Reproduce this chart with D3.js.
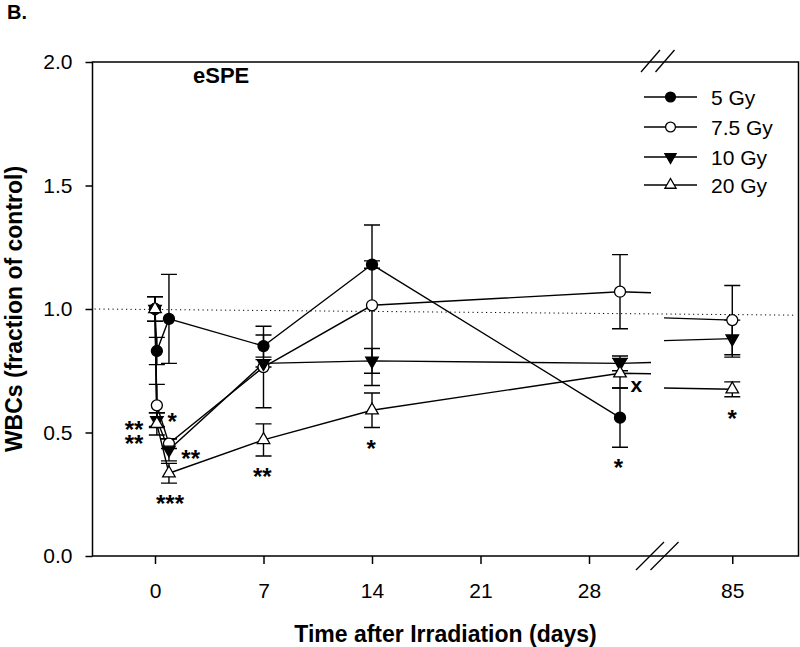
<!DOCTYPE html>
<html><head><meta charset="utf-8">
<script src="https://cdn.jsdelivr.net/npm/d3@7"></script>
<style>
body{margin:0;background:#fff;}
text{font-family:"Liberation Sans",Arial,sans-serif;fill:#000;}
</style></head>
<body>
<script>
// ---------- data ----------
const days = [0, 0.12, 0.9, 7, 14, 30, 85];
const seriesNames = ["5 Gy", "7.5 Gy", "10 Gy", "20 Gy"];
const mean5  = [1.0, 0.83, 0.96, 0.85, 1.18, 0.56, null];
const err5   = [0.05, 0.055, 0.18, 0.045, 0.015, 0.12, null];
const mean75 = [1.0, 0.61, 0.455, 0.765, 1.015, 1.07, 0.955];
const err75  = [0.05, 0.085, 0.02, 0.165, 0.325, 0.15, 0.14];
const mean10 = [1.0, 0.55, 0.43, 0.78, 0.79, 0.78, 0.88];
const err10  = [0.05, 0.03, 0.045, 0.015, 0.05, 0.03, 0.075];
const mean20 = [1.0, 0.535, 0.335, 0.47, 0.59, 0.74, 0.675];
const err20  = [0.05, 0.045, 0.04, 0.065, 0.07, 0.06, 0.03];
const xTickValues = [0, 7, 14, 21, 28, 85];
const yTickValues = [0, 0.5, 1.0, 1.5, 2.0];
const refLine = [1.0, 0.975];           // dotted control line, left and right ends
const annoText = [["**", "**"], ["*"], ["**"], ["***"], ["**"], ["*"], ["*"], ["x"], ["*"]];
const annoDay  = [-1.35, 1.1, 2.3, 0.97, 6.92, 13.94, 29.9, 31.05, 85];
const annoVal  = [0.534, 0.563, 0.413, 0.232, 0.34, 0.457, 0.377, 0.685, 0.575];

// ---------- scales (broken x axis) ----------
const W = 800, H = 647;
const breakLo = 32, breakHi = 80.6;
const x1 = d3.scaleLinear().domain([-4, breakLo]).range([93, 651]);
const x2 = d3.scaleLinear().domain([breakHi, 89.3]).range([664, 799]);
const X = d => d <= breakLo ? x1(d) : x2(d);
const y = d3.scaleLinear().domain([0, 2]).range([556, 62]);

const svg = d3.select("body").append("svg").attr("width", W).attr("height", H);

// panel letter
svg.append("text").attr("x", 7).attr("y", 19).attr("font-size", 20).attr("font-weight", "bold").text("B.");

// frame
const L = 92.5, R = 798.5, T = 62, B = 556;
svg.append("path").attr("d", `M${L},${T}H${R}V${B}H${L}Z`).attr("fill", "none").attr("stroke", "#000").attr("stroke-width", 1.5);

// dotted control line
svg.append("line").attr("x1", L + 2).attr("x2", R - 2)
  .attr("y1", y(refLine[0])).attr("y2", y(refLine[1]))
  .attr("stroke", "#000").attr("stroke-width", 1).attr("stroke-dasharray", "1.2,3.3");

// axes
const ya = svg.append("g").attr("transform", `translate(${L},0)`)
  .call(d3.axisLeft(y).tickValues(yTickValues).tickFormat(d3.format(".1f")).tickSize(7).tickPadding(13));
const xa1 = svg.append("g").attr("transform", `translate(0,${B})`)
  .call(d3.axisBottom(x1).tickValues(xTickValues.filter(d => d <= breakLo)).tickSize(8).tickPadding(19));
const xa2 = svg.append("g").attr("transform", `translate(0,${B})`)
  .call(d3.axisBottom(x2).tickValues(xTickValues.filter(d => d >= breakHi)).tickSize(8).tickPadding(19));
[ya, xa1, xa2].forEach(g => {
  g.select(".domain").remove();
  g.selectAll("line").attr("stroke", "#000").attr("stroke-width", 1.5);
  g.selectAll("text").attr("font-size", 21).attr("font-family", "Liberation Sans, Arial, sans-serif").attr("fill", "#000");
});

// break marks
const bx = [650, 664.5];
bx.forEach(cx => {
  svg.append("line").attr("x1", cx - 14).attr("y1", B + 14).attr("x2", cx + 14).attr("y2", B - 14)
    .attr("stroke", "#000").attr("stroke-width", 1.3);
  svg.append("line").attr("x1", cx - 9).attr("y1", T + 10).attr("x2", cx + 10).attr("y2", T - 12)
    .attr("stroke", "#000").attr("stroke-width", 1.3);
});

// axis titles
svg.append("text").attr("x", (L + R) / 2).attr("y", 642).attr("text-anchor", "middle")
  .attr("font-size", 23).attr("font-weight", "bold").text("Time after Irradiation (days)");
svg.append("text").attr("transform", `translate(22,${(T + B) / 2}) rotate(-90)`).attr("text-anchor", "middle")
  .attr("font-size", 23).attr("font-weight", "bold").text("WBCs (fraction of control)");

// label
svg.append("text").attr("x", 193).attr("y", 83).attr("font-size", 22).attr("font-weight", "bold").text("eSPE");

// series
const means = [mean5, mean75, mean10, mean20];
const errs = [err5, err75, err10, err20];
const symType = [
  {shape: d3.symbolCircle, size: 95, fill: "#000", rot: 0},
  {shape: d3.symbolCircle, size: 95, fill: "#fff", rot: 0},
  {shape: d3.symbolTriangle, size: 68, fill: "#000", rot: 180},
  {shape: d3.symbolTriangle, size: 68, fill: "#fff", rot: 0}
];

function pts(si) {
  return days.map((d, i) => ({d, v: means[si][i], e: errs[si][i]})).filter(p => p.v != null);
}
// line segments, split at the axis break (interpolated in data space)
function segments(p) {
  const segs = [];
  let cur = [[X(p[0].d), y(p[0].v)]];
  for (let i = 1; i < p.length; i++) {
    const a = p[i - 1], b = p[i];
    if (a.d <= breakLo && b.d >= breakHi) {
      const f = t => a.v + (b.v - a.v) * (t - a.d) / (b.d - a.d);
      cur.push([x1(breakLo), y(f(breakLo))]);
      segs.push(cur);
      cur = [[x2(breakHi), y(f(breakHi))]];
    }
    cur.push([X(b.d), y(b.v)]);
  }
  segs.push(cur);
  return segs;
}
const lineGen = d3.line();
const gLines = svg.append("g"), gErr = svg.append("g"), gSym = svg.append("g");
means.forEach((m, si) => {
  const p = pts(si);
  segments(p).forEach(s => gLines.append("path").attr("d", lineGen(s)).attr("fill", "none")
    .attr("stroke", "#000").attr("stroke-width", 1.4));
  p.forEach(q => {
    if (!q.e) return;
    const cx = X(q.d), yt = y(q.v + q.e), yb = y(q.v - q.e);
    gErr.append("path").attr("d", `M${cx},${yt}V${yb}M${cx - 8},${yt}H${cx + 8}M${cx - 8},${yb}H${cx + 8}`)
      .attr("fill", "none").attr("stroke", "#000").attr("stroke-width", 1.4);
  });
});
means.forEach((m, si) => {
  const st = symType[si];
  pts(si).forEach(q => {
    gSym.append("path").attr("d", d3.symbol(st.shape, st.size)())
      .attr("transform", `translate(${X(q.d)},${y(q.v)}) rotate(${st.rot})`)
      .attr("fill", st.fill).attr("stroke", "#000").attr("stroke-width", 1.3);
  });
});

// significance annotations
annoText.forEach((lines, i) => {
  const isX = lines[0] === "x";
  const fs = isX ? 21 : 24;
  const off = isX ? 0.26 * fs : 0.56 * fs;
  const t = svg.append("text").attr("x", X(annoDay[i])).attr("y", y(annoVal[i]) + off)
    .attr("text-anchor", "middle").attr("font-size", fs).attr("font-weight", "bold");
  lines.forEach((s, j) => t.append("tspan").attr("x", X(annoDay[i])).attr("dy", j ? "0.6em" : 0).text(s));
});

// legend
const legY = [97, 127, 157, 185];
seriesNames.forEach((n, i) => {
  const g = svg.append("g").attr("transform", `translate(0,${legY[i]})`);
  g.append("line").attr("x1", 644).attr("x2", 697).attr("stroke", "#000").attr("stroke-width", 1.4);
  const st = symType[i];
  g.append("path").attr("d", d3.symbol(st.shape, st.size * 0.8)())
    .attr("transform", `translate(670.5,0) rotate(${st.rot})`)
    .attr("fill", st.fill).attr("stroke", "#000").attr("stroke-width", 1.3);
  g.append("text").attr("x", 711).attr("y", 7.5).attr("font-size", 21).text(n);
});
</script>
</body></html>
